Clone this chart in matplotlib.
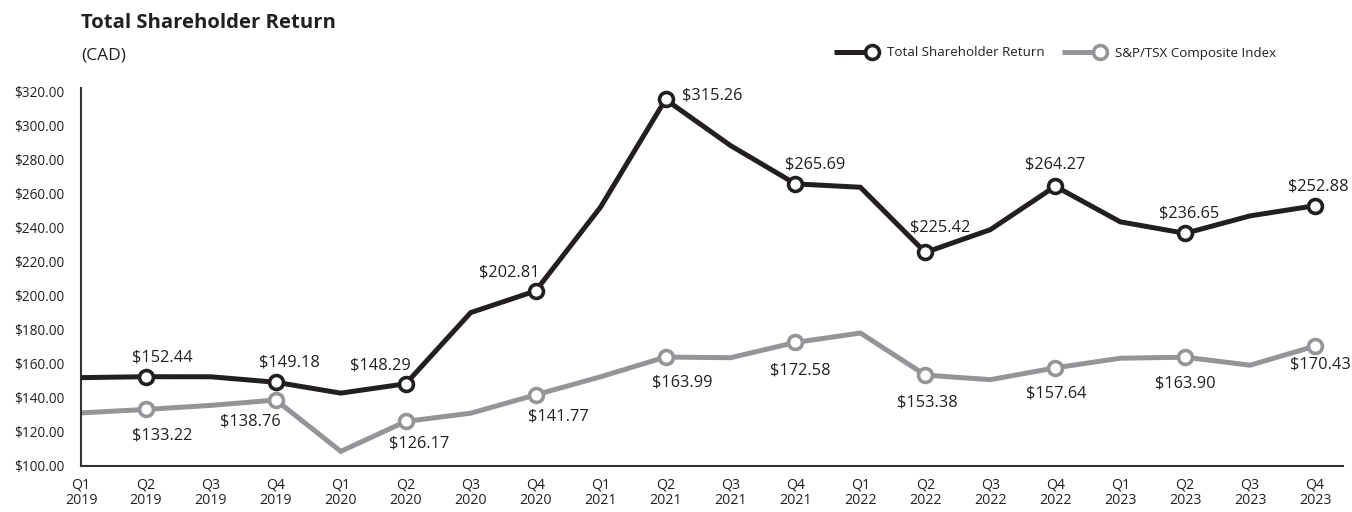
import matplotlib
matplotlib.use("Agg")
import matplotlib.pyplot as plt
from matplotlib.lines import Line2D
from matplotlib.legend_handler import HandlerLine2D

plt.rcParams['font.family'] = ['Open Sans', 'DejaVu Sans']

quarters = ["Q1\n2019", "Q2\n2019", "Q3\n2019", "Q4\n2019",
            "Q1\n2020", "Q2\n2020", "Q3\n2020", "Q4\n2020",
            "Q1\n2021", "Q2\n2021", "Q3\n2021", "Q4\n2021",
            "Q1\n2022", "Q2\n2022", "Q3\n2022", "Q4\n2022",
            "Q1\n2023", "Q2\n2023", "Q3\n2023", "Q4\n2023"]

tsr = [151.9, 152.44, 152.4, 149.18, 142.8, 148.29, 190.1, 202.81,
       252.1, 315.26, 288.2, 265.69, 263.7, 225.42, 238.8, 264.27,
       243.4, 236.65, 246.9, 252.88]
tsx = [131.2, 133.22, 135.6, 138.76, 108.6, 126.17, 131.0, 141.77,
       152.4, 163.99, 163.6, 172.58, 178.1, 153.38, 150.7, 157.64,
       163.3, 163.90, 159.2, 170.43]

# every second quarter is labelled
labelled = [1, 3, 5, 7, 9, 11, 13, 15, 17, 19]
yticks = [100, 120, 140, 160, 180, 200, 220, 240, 260, 280, 300, 320]

# label offsets in pixels (dx, dy, ha)
tsr_off = {1: (16, 19, 'center'), 3: (14, 20, 'center'), 5: (-25, 18, 'center'),
           7: (-26, 18, 'center'), 9: (16, 4, 'left'), 11: (20, 19, 'center'),
           13: (15, 25, 'center'), 15: (0, 22, 'center'), 17: (4, 20, 'center'),
           19: (3, 19, 'center')}
tsx_off = {1: (16, -26, 'center'), 3: (-26, -21, 'center'), 5: (13, -22, 'center'),
           7: (23, -22, 'center'), 9: (17, -25, 'center'), 11: (5, -28, 'center'),
           13: (2, -27, 'center'), 15: (1, -26, 'center'), 17: (0, -26, 'center'),
           19: (5, -18, 'center')}

DARK = '#231f20'
GREY = '#939598'
TXT = '#231f20'


class EndMarkerHandler(HandlerLine2D):
    def create_artists(self, legend, orig_handle, xdescent, ydescent,
                       width, height, fontsize, trans):
        y = height / 2 - ydescent
        x1 = width - xdescent
        ln = Line2D([-xdescent, x1], [y, y], color=orig_handle.get_color(),
                    lw=orig_handle.get_linewidth(), solid_capstyle='butt')
        mk = Line2D([x1], [y], marker='o', linestyle='none',
                    markersize=orig_handle.get_markersize(),
                    markerfacecolor='white',
                    markeredgecolor=orig_handle.get_color(),
                    markeredgewidth=orig_handle.get_markeredgewidth())
        ln.set_transform(trans)
        mk.set_transform(trans)
        return [ln, mk]


fig = plt.figure(figsize=(13.52, 5.12), dpi=100)
ax = fig.add_axes([81 / 1352, 1 - 466 / 512, (1343 - 81) / 1352, (466 - 88) / 512])

x = list(range(len(quarters)))
ax.plot(x, tsx, color=GREY, lw=3.6, zorder=2, solid_joinstyle='miter')
ax.plot(x, tsr, color=DARK, lw=3.6, zorder=3, solid_joinstyle='miter')
lx = [x[i] for i in labelled]
ax.plot(lx, [tsx[i] for i in labelled], 'o', ms=10, mfc='white', mec=GREY, mew=2.6, zorder=4)
ax.plot(lx, [tsr[i] for i in labelled], 'o', ms=10, mfc='white', mec=DARK, mew=2.6, zorder=5)

px = 72 / 100.0
for i in labelled:
    dx, dy, ha = tsr_off[i]
    ax.annotate("${:.2f}".format(tsr[i]), (x[i], tsr[i]), xytext=(dx * px, dy * px),
                textcoords='offset points', ha=ha, va='center', fontsize=11.8, color=TXT)
    dx, dy, ha = tsx_off[i]
    ax.annotate("${:.2f}".format(tsx[i]), (x[i], tsx[i]), xytext=(dx * px, dy * px),
                textcoords='offset points', ha=ha, va='center', fontsize=11.8, color=TXT)

ax.set_xlim(0, 19.43)
ax.set_ylim(100, 322)
ax.set_xticks(x)
ax.set_xticklabels(quarters, fontsize=10.2, color=TXT, linespacing=1.05)
ax.set_yticks(yticks)
ax.set_yticklabels(["${:.2f}".format(v) for v in yticks], fontsize=9.8, color=TXT)
ax.tick_params(axis='both', length=0)
ax.tick_params(axis='x', pad=8)
ax.tick_params(axis='y', pad=12)
for s in ['top', 'right']:
    ax.spines[s].set_visible(False)
for s in ['left', 'bottom']:
    ax.spines[s].set_color('#333333')
    ax.spines[s].set_linewidth(1.5)

fig.text(81 / 1352, 1 - 23 / 512, "Total Shareholder Return", fontsize=14.6,
         fontweight='bold', color=TXT, va='center', ha='left')
fig.text(81 / 1352, 1 - 55 / 512, "(CAD)", fontsize=12.5, color=TXT, va='center', ha='left')

h1 = Line2D([], [], color=DARK, lw=3.6, marker='o', ms=10, mew=2.6)
h2 = Line2D([], [], color=GREY, lw=3.6, marker='o', ms=10, mew=2.6)
fig.legend([h1, h2], ["Total Shareholder Return", "S&P/TSX Composite Index"],
           loc='center right', bbox_to_anchor=(1276 / 1352, 1 - 53 / 512),
           ncol=2, frameon=False, fontsize=9.6, handlelength=2.85,
           handletextpad=1.15, columnspacing=1.25, borderpad=0, borderaxespad=0,
           handler_map={Line2D: EndMarkerHandler()}, labelcolor=TXT)

fig.savefig("out.png", dpi=100)
